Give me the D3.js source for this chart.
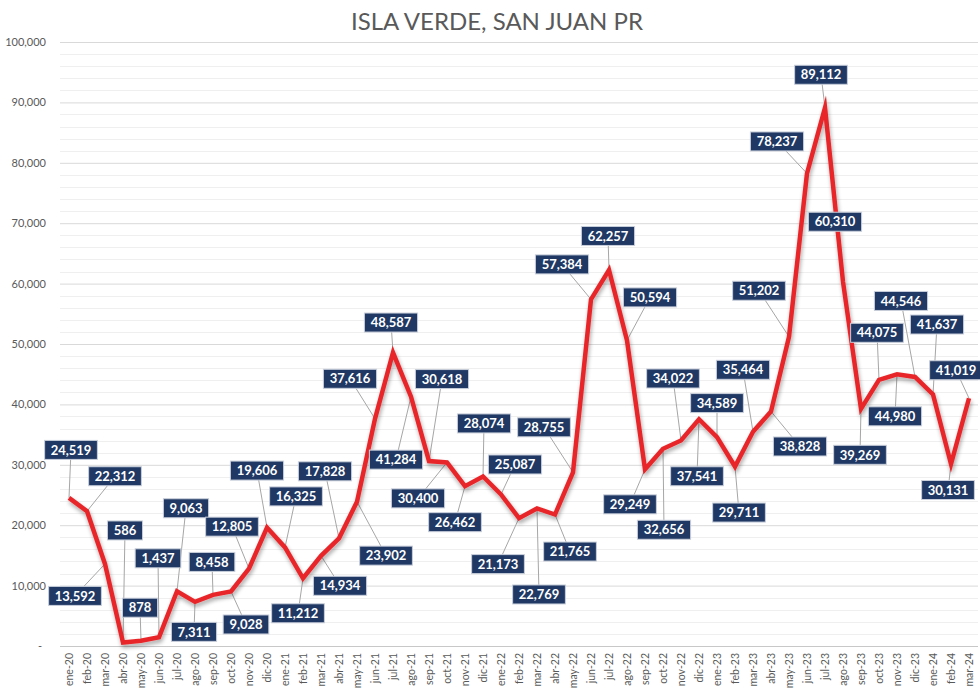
<!DOCTYPE html>
<html>
<head>
<meta charset="utf-8">
<script src="https://cdn.jsdelivr.net/npm/d3@7"></script>
<style>
  html, body { margin: 0; padding: 0; background: #ffffff; }
  svg { display: block; }
</style>
</head>
<body>
<svg id="chart" width="980" height="689"></svg>
<script>
// Monthly visitor counts, Isla Verde (San Juan, PR)
const months = [
  "ene-20","feb-20","mar-20","abr-20","may-20","jun-20","jul-20","ago-20","sep-20","oct-20","nov-20","dic-20",
  "ene-21","feb-21","mar-21","abr-21","may-21","jun-21","jul-21","ago-21","sep-21","oct-21","nov-21","dic-21",
  "ene-22","feb-22","mar-22","abr-22","may-22","jun-22","jul-22","ago-22","sep-22","oct-22","nov-22","dic-22",
  "ene-23","feb-23","mar-23","abr-23","may-23","jun-23","jul-23","ago-23","sep-23","oct-23","nov-23","dic-23",
  "ene-24","feb-24","mar-24"
];
const visitors = [
  24519, 22312, 13592, 586, 878, 1437, 9063, 7311, 8458, 9028, 12805, 19606,
  16325, 11212, 14934, 17828, 23902, 37616, 48587, 41284, 30618, 30400, 26462, 28074,
  25087, 21173, 22769, 21765, 28755, 57384, 62257, 50594, 29249, 32656, 34022, 37541,
  34589, 29711, 35464, 38828, 51202, 78237, 89112, 60310, 39269, 44075, 44980, 44546,
  41637, 30131, 41019
];
const yTicks = [0, 10000, 20000, 30000, 40000, 50000, 60000, 70000, 80000, 90000, 100000];
const chartTitle = "ISLA VERDE, SAN JUAN PR";

// Callout placement: offset of each label's centre from its point, in px
const labelOffsets = [
  [2,-48],[28,-35],[-30,32],[2,-112],[-1,-33],[-1,-79],[9,-83],[-1,30],[-1,-33],[15,33],[-17,-42],[-10,-57],
  [11,-51],[-5,35],[19,30],[-14,-67],[29,54],[-25,-40],[-2,-30],[-15,63],[13,-82],[-29,36],[-10,36],[1,-53],
  [14,-30],[-21,46],[2,86],[15,37],[-29,-45],[-29,-35],[-1,-34],[23,-43],[-15,35],[1,81],[-8,-62],[-2,57],
  [0,-34],[4,46],[-10,-62],[29,35],[-30,-46],[-30,-32],[-4,-33],[-8,-60],[-1,46],[-2,-47],[-2,42],[-14,-76],
  [4,-70],[-3,26],[-13,-28]
];

const W = 980, H = 689;
const plot = { left: 60, right: 978, top: 42, bottom: 646 };
const svg = d3.select("#chart");
const font = "Lato, 'Open Sans', sans-serif";

const x = d3.scalePoint().domain(months).range([plot.left, plot.right]).padding(0.5);
const y = d3.scaleLinear().domain([0, 100000]).range([plot.bottom, plot.top]);

// Drop shadow under the series line
const defs = svg.append("defs");
const shadow = defs.append("filter").attr("id", "lineShadow")
  .attr("x", "-5%").attr("y", "-5%").attr("width", "110%").attr("height", "115%");
shadow.append("feGaussianBlur").attr("in", "SourceAlpha").attr("stdDeviation", 2);
shadow.append("feOffset").attr("dx", 1).attr("dy", 3).attr("result", "off");
shadow.append("feComponentTransfer").append("feFuncA").attr("type", "linear").attr("slope", 0.35);
const merge = shadow.append("feMerge");
merge.append("feMergeNode");
merge.append("feMergeNode").attr("in", "SourceGraphic");

// Minor gridlines every 2,000
const minor = d3.range(2000, 100001, 2000).filter(v => v % 10000 !== 0);
svg.append("g").selectAll("line").data(minor).join("line")
  .attr("x1", plot.left).attr("x2", plot.right)
  .attr("y1", d => Math.round(y(d)) + 0.5).attr("y2", d => Math.round(y(d)) + 0.5)
  .attr("stroke", "#efefef").attr("stroke-width", 1);

// Major gridlines + y axis labels
const yAxis = d3.axisLeft(y).tickValues(yTicks)
  .tickSize(-(plot.right - plot.left)).tickPadding(14)
  .tickFormat(d => d === 0 ? "-" : d3.format(",")(d));
const gy = svg.append("g").attr("transform", `translate(${plot.left},0)`).call(yAxis);
gy.select(".domain").remove();
gy.selectAll(".tick line").attr("stroke", d => d === 0 ? "#c8c8c8" : "#d9d9d9");
gy.selectAll(".tick text").attr("fill", "#595959").style("font-family", font).style("font-size", "11px");
gy.selectAll(".tick").filter(d => d === 0).select("text").attr("dx", -4);

// Category axis, labels rotated upward
const xAxis = d3.axisBottom(x).tickSize(0).tickPadding(0);
const gx = svg.append("g").attr("transform", `translate(0,${plot.bottom})`).call(xAxis);
gx.select(".domain").remove();
gx.selectAll(".tick text")
  .attr("transform", "rotate(-90)")
  .attr("x", -7).attr("y", 0).attr("dy", "0.35em")
  .attr("text-anchor", "end")
  .attr("fill", "#595959").style("font-family", font).style("font-size", "10.5px");

// Title
svg.append("text").attr("x", 497).attr("y", 30).attr("text-anchor", "middle")
  .attr("fill", "#595959").style("font-family", font).style("font-size", "24px")
  .text(chartTitle);

const pts = visitors.map((v, i) => ({ v, i, px: x(months[i]), py: y(v),
  cx: x(months[i]) + labelOffsets[i][0], cy: y(v) + labelOffsets[i][1] }));

// Leader lines from each point to its callout
svg.append("g").selectAll("line").data(pts).join("line")
  .attr("x1", d => d.px).attr("y1", d => d.py)
  .attr("x2", d => d.cx).attr("y2", d => d.cy)
  .attr("stroke", "#a6a6a6").attr("stroke-width", 1);

// Series line
const line = d3.line().x((d, i) => x(months[i])).y(d => y(d));
svg.append("path").datum(visitors)
  .attr("d", line).attr("fill", "none")
  .attr("stroke", "#e8282b").attr("stroke-width", 4.5)
  .attr("stroke-linejoin", "miter").attr("stroke-miterlimit", 10)
  .attr("filter", "url(#lineShadow)");

// Value callouts
const fmt = d3.format(",");
const lab = svg.append("g").selectAll("g").data(pts).join("g")
  .attr("transform", d => `translate(${d.cx},${d.cy})`);
lab.append("rect").attr("class", "box");
lab.append("text")
  .attr("text-anchor", "middle").attr("dy", "0.36em")
  .attr("fill", "#ffffff").style("font-family", font).style("font-weight", "bold").style("font-size", "13px")
  .text(d => fmt(d.v));
lab.each(function () {
  const g = d3.select(this);
  const bb = g.select("text").node().getBBox();
  const w = bb.width + 12, h = 19;
  g.select("rect").attr("x", -w / 2).attr("y", -h / 2).attr("width", w).attr("height", h)
    .attr("fill", "#1f3864").attr("stroke", "#c9cfdb").attr("stroke-width", 1);
});
</script>
</body>
</html>
